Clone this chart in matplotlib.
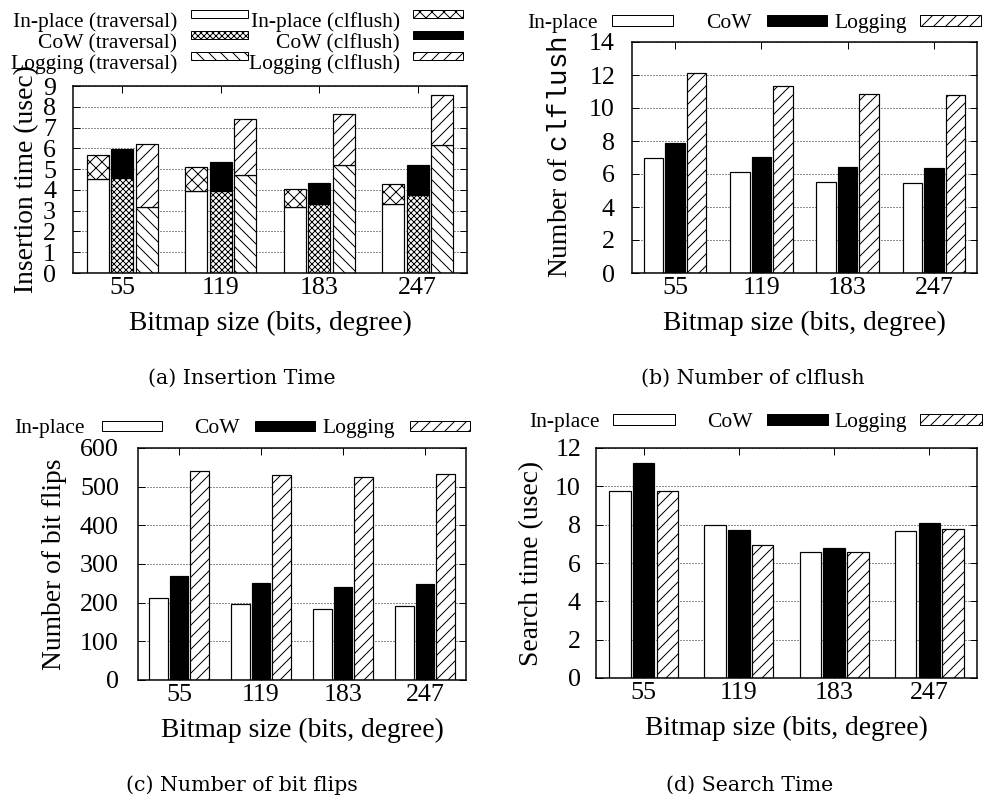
import matplotlib
matplotlib.use('Agg')
import matplotlib.pyplot as plt
from matplotlib.patches import Rectangle
import numpy as np

# ---------------- data ----------------
sizes = ['55', '119', '183', '247']

# (a) insertion time (usec): traversal part and clflush part (stacked)
inplace_trav = [4.52, 3.96, 3.17, 3.32]
inplace_clf = [1.15, 1.14, 0.87, 0.94]
cow_trav = [4.57, 3.97, 3.32, 3.77]
cow_clf = [1.41, 1.38, 1.02, 1.44]
log_trav = [3.17, 4.71, 5.18, 6.14]
log_clf = [3.03, 2.69, 2.46, 2.42]

# (b) number of clflush
clf_inplace = [6.97, 6.10, 5.49, 5.45]
clf_cow = [7.88, 7.03, 6.40, 6.34]
clf_log = [12.12, 11.31, 10.83, 10.79]

# (c) number of bit flips
bf_inplace = [213, 196, 184, 191]
bf_cow = [270, 252, 241, 248]
bf_log = [540, 530, 525, 533]

# (d) search time (usec)
st_inplace = [9.77, 7.96, 6.55, 7.67]
st_cow = [11.22, 7.73, 6.79, 8.08]
st_log = [9.77, 6.93, 6.57, 7.77]

# ---------------- style ----------------
W, H = 984, 796
DPI = 72
plt.rcParams['font.family'] = ['Liberation Serif', 'DejaVu Serif']
plt.rcParams['mathtext.fontset'] = 'custom'
plt.rcParams['mathtext.rm'] = 'Liberation Serif'
plt.rcParams['mathtext.tt'] = 'Liberation Mono'
plt.rcParams['hatch.linewidth'] = 1.0

TICK_FS = 26
LABEL_FS = 27.5
LEG_FS = 21.5
CAP_FS = 20.5

H_LOG = '//'        # logging / clflush diagonal
H_LOGT = '\\\\'     # logging traversal
H_IPC = 'xx'        # in-place clflush
H_COWT = 'xxxx'     # CoW traversal (dense)

fig = plt.figure(figsize=(W / DPI, H / DPI), dpi=DPI)


def pix_rect(l, t, r, b):
    return [l / W, 1 - b / H, (r - l) / W, (b - t) / H]


x = np.arange(len(sizes))
BW = 0.225
OFF = 0.25


def style_axes(ax, ymax, ystep, ylabel, ypad, ylabpad):
    ax.set_xlim(-0.5, 3.5)
    ax.set_ylim(0, ymax)
    ax.set_yticks(np.arange(0, ymax + ystep / 2, ystep))
    ax.set_xticks(x)
    ax.set_xticklabels(sizes)
    ax.tick_params(axis='both', direction='in', top=True, right=True,
                   length=7, width=1, labelsize=TICK_FS)
    ax.tick_params(axis='y', pad=ypad)
    ax.tick_params(axis='x', pad=4)
    for s in ax.spines.values():
        s.set_linewidth(1.5)
    ax.set_axisbelow(True)
    ax.yaxis.grid(True, linestyle=(0, (1, 2)), linewidth=1, color='#222222')
    ax.set_xlabel('Bitmap size (bits, degree)', fontsize=LABEL_FS, labelpad=12)
    ax.set_ylabel(ylabel, fontsize=LABEL_FS, labelpad=ylabpad)


EDGE = dict(edgecolor='black', linewidth=1.2)

# ---------------- (a) ----------------
axa = fig.add_axes(pix_rect(73, 86, 467, 273))
axa.bar(x - OFF, inplace_trav, BW, facecolor='white', **EDGE)
axa.bar(x - OFF, inplace_clf, BW, bottom=inplace_trav, facecolor='white', hatch=H_IPC, **EDGE)
axa.bar(x, cow_trav, BW, facecolor='white', hatch=H_COWT, **EDGE)
axa.bar(x, cow_clf, BW, bottom=cow_trav, facecolor='black', **EDGE)
axa.bar(x + OFF, log_trav, BW, facecolor='white', hatch=H_LOGT, **EDGE)
axa.bar(x + OFF, log_clf, BW, bottom=log_trav, facecolor='white', hatch=H_LOG, **EDGE)
style_axes(axa, 9, 1, 'Insertion time (usec)', 17, 4)

# ---------------- (b) ----------------
axb = fig.add_axes(pix_rect(632, 42, 977, 273))
axb.bar(x - OFF, clf_inplace, BW, facecolor='white', **EDGE)
axb.bar(x, clf_cow, BW, facecolor='black', **EDGE)
axb.bar(x + OFF, clf_log, BW, facecolor='white', hatch=H_LOG, **EDGE)
style_axes(axb, 14, 2, r'Number of $\mathtt{clflush}$', 17, 16)

# ---------------- (c) ----------------
axc = fig.add_axes(pix_rect(138, 448, 466, 680))
axc.bar(x - OFF, bf_inplace, BW, facecolor='white', **EDGE)
axc.bar(x, bf_cow, BW, facecolor='black', **EDGE)
axc.bar(x + OFF, bf_log, BW, facecolor='white', hatch=H_LOG, **EDGE)
style_axes(axc, 600, 100, 'Number of bit flips', 19, 13)

# ---------------- (d) ----------------
axd = fig.add_axes(pix_rect(596, 448, 977, 678))
axd.bar(x - OFF, st_inplace, BW, facecolor='white', **EDGE)
axd.bar(x, st_cow, BW, facecolor='black', **EDGE)
axd.bar(x + OFF, st_log, BW, facecolor='white', hatch=H_LOG, **EDGE)
style_axes(axd, 12, 2, 'Search time (usec)', 15, 11)

# ---------------- overlay: legends & captions (pixel coordinates) ----------------
ov = fig.add_axes([0, 0, 1, 1], zorder=10)
ov.set_xlim(0, W)
ov.set_ylim(H, 0)
ov.axis('off')
ov.patch.set_alpha(0)


def legend_item(label, text_right, box_l, box_r, box_t, box_b, baseline, fc, hatch=None):
    ov.text(text_right, baseline, label, ha='right', va='baseline', fontsize=LEG_FS)
    ov.add_patch(Rectangle((box_l, box_t), box_r - box_l, box_b - box_t,
                           facecolor=fc, edgecolor='black', hatch=hatch, linewidth=1))


# legend (a)
legend_item('In-place (traversal)', 177, 191, 248, 10, 18, 27, 'white')
legend_item('CoW (traversal)', 177, 191, 248, 31, 39, 48, 'white', H_COWT)
legend_item('Logging (traversal)', 177, 191, 248, 52, 60, 69, 'white', H_LOGT)
legend_item('In-place (clflush)', 400, 413, 463, 10, 18, 27, 'white', H_IPC)
legend_item('CoW (clflush)', 400, 413, 463, 31, 39, 48, 'black')
legend_item('Logging (clflush)', 400, 413, 463, 52, 60, 69, 'white', H_LOG)

# legend (b)
legend_item('In-place', 598, 612, 673, 15, 26, 28, 'white')
legend_item('CoW', 752, 767, 827, 15, 26, 28, 'black')
legend_item('Logging', 907, 920, 981, 15, 26, 28, 'white', H_LOG)

# legend (c)
legend_item('In-place', 85, 102, 162, 421, 431, 433, 'white')
legend_item('CoW', 240, 255, 315, 421, 431, 433, 'black')
legend_item('Logging', 395, 410, 470, 421, 431, 433, 'white', H_LOG)

# legend (d)
legend_item('In-place', 600, 613, 675, 414, 425, 427, 'white')
legend_item('CoW', 753, 767, 828, 414, 425, 427, 'black')
legend_item('Logging', 907, 920, 982, 414, 425, 427, 'white', H_LOG)

# captions
cap_kw = dict(ha='center', va='center', fontsize=CAP_FS, family='DejaVu Serif')
ov.text(242, 378, '(a) Insertion Time', **cap_kw)
ov.text(753, 378, '(b) Number of clflush', **cap_kw)
ov.text(242, 785, '(c) Number of bit flips', **cap_kw)
ov.text(750, 785, '(d) Search Time', **cap_kw)

fig.savefig('out.png', dpi=DPI)
